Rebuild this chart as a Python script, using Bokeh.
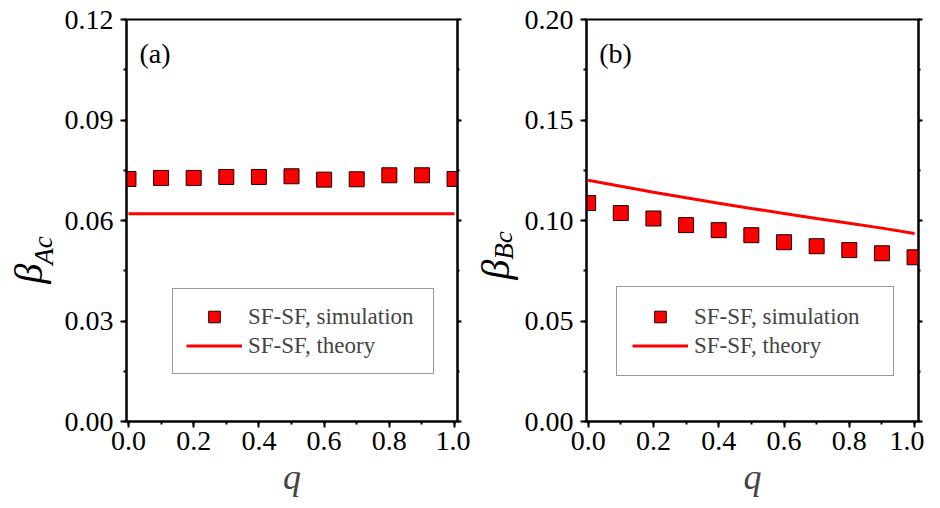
from bokeh.plotting import figure
from bokeh.models import (Range1d, LinearAxis, Label, Legend, LegendItem,
                          SingleIntervalTicker, PrintfTickFormatter)
from bokeh.core.properties import value
from bokeh.layouts import row
from bokeh.embed import file_html
from bokeh.resources import INLINE

# ---------------- data ----------------
q = [0.0, 0.1, 0.2, 0.3, 0.4, 0.5, 0.6, 0.7, 0.8, 0.9, 1.0]
beta_ac_sim = [0.0724, 0.0727, 0.0727, 0.0730, 0.0730, 0.0732, 0.0722, 0.0723, 0.0735, 0.0735, 0.0724]
beta_ac_theory = [0.0620, 0.0620, 0.0620, 0.0620, 0.0620, 0.0620, 0.0620, 0.0620, 0.0620, 0.0620, 0.0620]
beta_bc_sim = [0.1087, 0.1037, 0.1010, 0.0977, 0.0952, 0.0927, 0.0892, 0.0872, 0.0853, 0.0837, 0.0817]
beta_bc_theory = [0.1200, 0.1170, 0.1141, 0.1113, 0.1086, 0.1060, 0.1035, 0.1010, 0.0986, 0.0962, 0.0935]
legend_labels = ["SF-SF, simulation", "SF-SF, theory"]

FONT = "Liberation Serif"
RED = "#ff0000"
H = 498          # total figure height
TOP = 19         # frame top
FRAME_H = 402


def style_axis(ax, interval, fmt, labels=True):
    ax.ticker = SingleIntervalTicker(interval=interval, num_minor_ticks=2)
    ax.formatter = PrintfTickFormatter(format=fmt)
    ax.axis_line_width = 2
    ax.axis_line_color = "black"
    ax.major_tick_line_width = 2
    ax.minor_tick_line_width = 2
    ax.major_tick_line_color = "black"
    ax.minor_tick_line_color = "black"
    ax.major_tick_in = 0
    ax.major_tick_out = 6
    ax.minor_tick_in = 0
    ax.minor_tick_out = 3
    ax.major_label_text_font = FONT
    ax.major_label_text_color = "black"
    if labels:
        ax.major_label_text_font_size = "28px"
    else:
        ax.major_label_text_font_size = "1px"
        ax.major_label_text_color = None
        ax.major_label_standoff = 0


def label_fig(width, beta_xy, sub_xy, sub):
    f = figure(frame_width=width, frame_height=H,
               x_range=Range1d(0, width), y_range=Range1d(0, H),
               output_backend="svg", toolbar_location=None,
               min_border_left=0, min_border_right=0,
               min_border_top=0, min_border_bottom=0)
    f.axis.visible = False
    f.grid.visible = False
    f.outline_line_color = None
    f.background_fill_color = "white"
    f.border_fill_color = "white"
    f.text(x=[beta_xy[0]], y=[H - beta_xy[1]], text=["β"], angle=1.5708,
           text_font=value(FONT), text_font_style="italic", text_font_size="40px",
           text_align="center", text_baseline="middle", text_color="black")
    f.text(x=[sub_xy[0]], y=[H - sub_xy[1]], text=[sub], angle=1.5708,
           text_font=value(FONT), text_font_style="italic", text_font_size="27px",
           text_align="center", text_baseline="middle", text_color="black")
    return f


def make_panel(sim, theory, ymax, yint, tag, xr, border_left, frame_w, border_right,
               leg_x, leg_y, leg_w, leg_pad):
    p = figure(frame_width=frame_w, frame_height=FRAME_H,
               x_range=Range1d(*xr), y_range=Range1d(0, ymax),
               output_backend="svg", toolbar_location=None,
               min_border_left=border_left, min_border_right=border_right,
               min_border_top=TOP, min_border_bottom=H - TOP - FRAME_H)
    p.xgrid.visible = False
    p.ygrid.visible = False
    p.outline_line_color = "black"
    p.outline_line_width = 2
    p.background_fill_color = "white"
    p.border_fill_color = "white"

    style_axis(p.xaxis[0], 0.2, "%.1f")
    style_axis(p.yaxis[0], yint, "%.2f")
    p.xaxis[0].major_label_standoff = 4
    p.yaxis[0].major_label_standoff = 7
    p.xaxis[0].axis_label = "q"
    p.xaxis[0].axis_label_text_font = FONT
    p.xaxis[0].axis_label_text_font_style = "italic"
    p.xaxis[0].axis_label_text_font_size = "36px"
    p.xaxis[0].axis_label_standoff = 4

    right = LinearAxis()
    style_axis(right, yint, "%.2f", labels=False)
    right.major_tick_out = 4
    right.minor_tick_out = 2
    p.add_layout(right, "right")

    ln = p.line(q, theory, line_color=RED, line_width=3)
    sc = p.scatter(q, sim, marker="square", size=15, fill_color=RED,
                   line_color="#200000", line_width=1)

    legend = Legend(items=[LegendItem(label=legend_labels[0], renderers=[sc]),
                           LegendItem(label=legend_labels[1], renderers=[ln])],
                    location=(leg_x, leg_y),
                    label_text_font=FONT, label_text_font_size="23px",
                    glyph_width=56, glyph_height=29, label_height=29,
                    label_width=leg_w,
                    label_standoff=6, padding=leg_pad, spacing=0, margin=0,
                    border_line_color="#333333", border_line_width=1,
                    background_fill_alpha=1.0)
    p.add_layout(legend, "center")

    py = ymax / FRAME_H
    p.add_layout(Label(x=0.034, y=368 * py, text=tag,
                       text_font=FONT, text_font_size="28px",
                       text_align="left", text_baseline="alphabetic", text_color="black"))
    return p


BORDER = 66
LA_W = 126 - BORDER
LB_W = 116 - BORDER
la = label_fig(LA_W, (28, 254), (43, 231), "Ac")
pa = make_panel(beta_ac_sim, beta_ac_theory, 0.12, 0.03, "(a)",
                (-0.006, 1.009), BORDER, 331, 13, 46, 47, 172, 13)
lb = label_fig(LB_W, (495 - 470, 250), (503 - 470, 226), "Bc")
pb = make_panel(beta_bc_sim, beta_bc_theory, 0.20, 0.05, "(b)",
                (-0.005, 1.012), BORDER, 332, 6, 30, 45, 184, 15)

layout = row(la, pa, lb, pb)
open("out.html", "w").write(file_html(layout, INLINE))
